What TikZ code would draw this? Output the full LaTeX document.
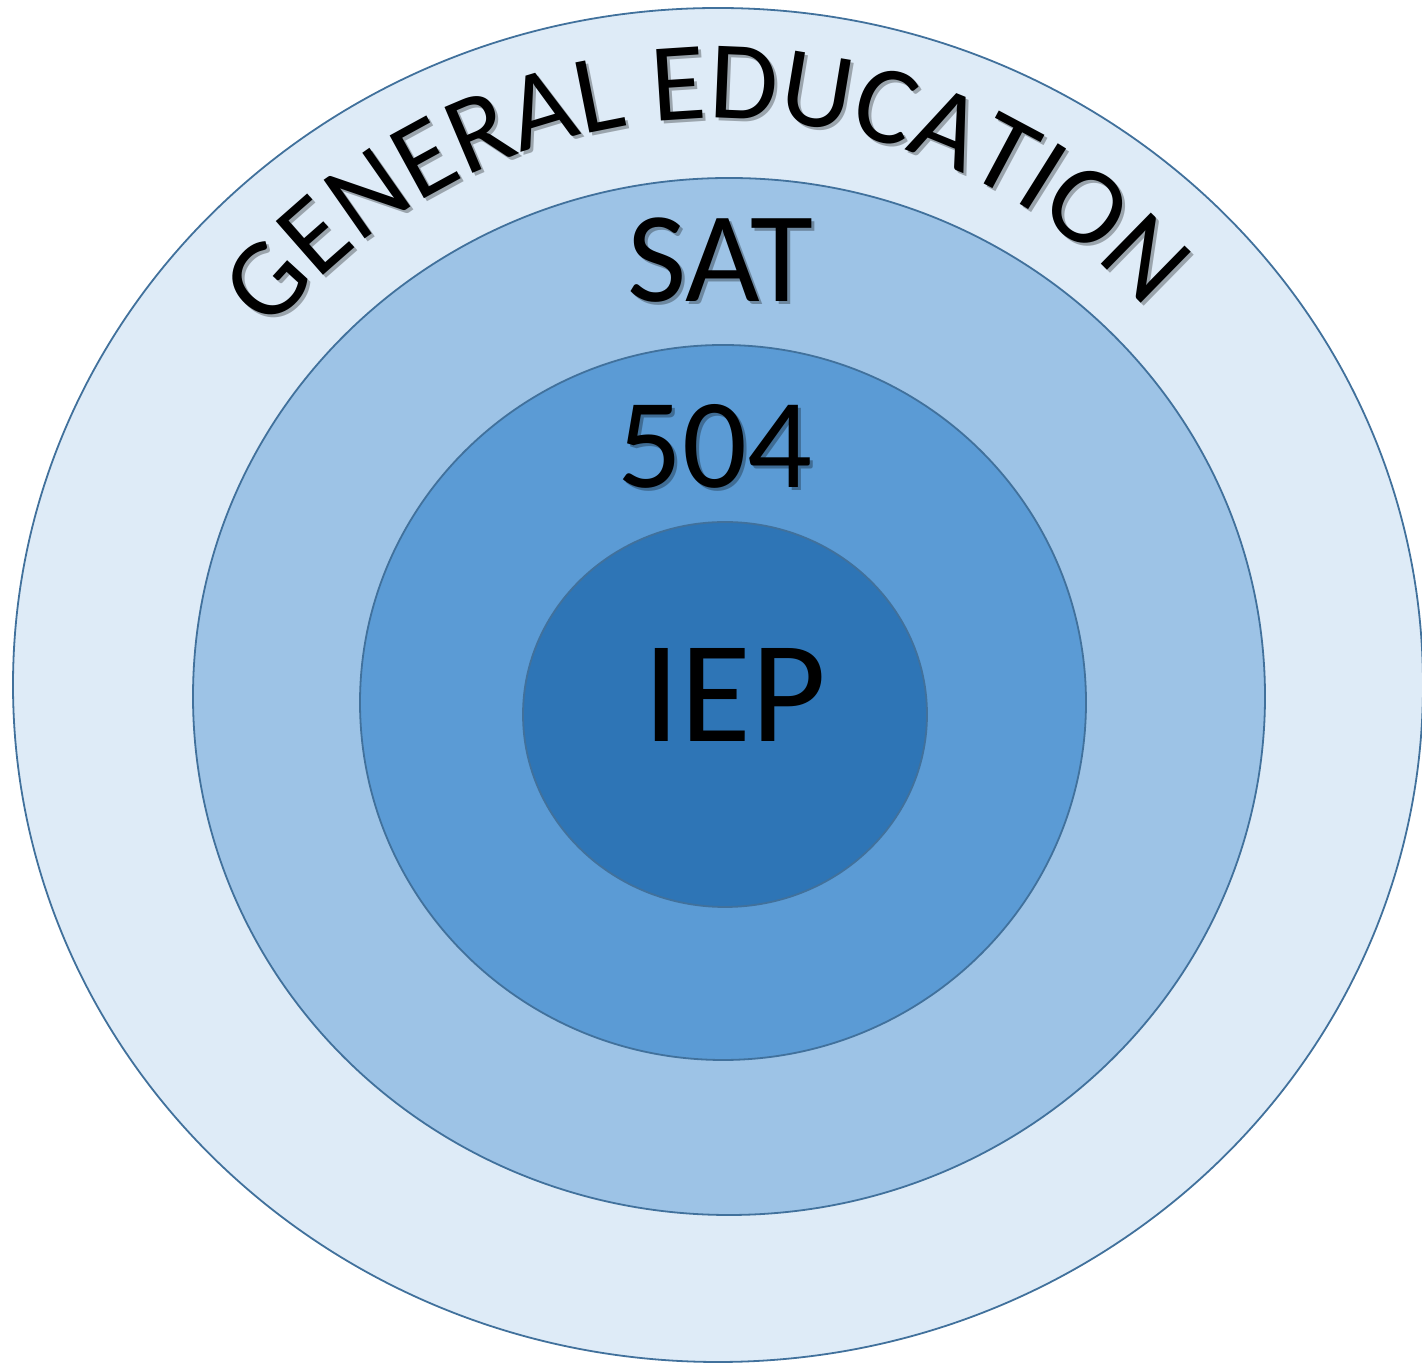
\documentclass[tikz,border=0pt]{standalone}
\usepackage{fontspec}
\setmainfont{Carlito}
\usetikzlibrary{decorations.text}
\definecolor{ringA}{HTML}{DEEBF7}
\definecolor{ringB}{HTML}{9DC3E6}
\definecolor{ringC}{HTML}{5B9BD5}
\definecolor{ringD}{HTML}{2E75B6}
\definecolor{ringline}{HTML}{41719C}
\newcommand\gefont{\fontsize{111.5}{120}\selectfont}
\begin{document}
\begin{tikzpicture}[x=1pt,y=1pt,
  ring/.style={draw=ringline, line width=1.8pt},
  lbl/.style={inner sep=0pt, anchor=base, text=black},
  shadowlbl/.style={inner sep=0pt, anchor=base, text=black, opacity=0.3},
  titlearc/.style={decorate, decoration={text along path, text align=center,
    text={|\gefont|GENERAL EDUCATION}}}]
\useasboundingbox (0,0) rectangle (1422,1365);
% rings
\path[ring, fill=ringA] (718,680) ellipse [x radius=705, y radius=677];
\path[ring, fill=ringB] (729,668.5) ellipse [x radius=536, y radius=518.5];
\path[ring, fill=ringC] (723,662.5) ellipse [x radius=363, y radius=357.5];
\path[ring, fill=ringD] (725,650.5) ellipse [x radius=202, y radius=192.5];
% curved title: soft shadow, then text
\begin{scope}[shift={(3,-3)}, opacity=0.3]
\path[titlearc] (718,670) ++(149.5:576) arc[start angle=149.5, end angle=33.5, radius=576];
\end{scope}
\path[titlearc] (718,670) ++(149.5:576) arc[start angle=149.5, end angle=33.5, radius=576];
% labels
\node[shadowlbl, font=\fontsize{129}{130}\selectfont] (satsh) at (723,1060) {SAT};
\node[lbl, font=\fontsize{129}{130}\selectfont] (sat) at (720,1063) {SAT};
\node[shadowlbl, font=\fontsize{128}{130}\selectfont] (fivesh) at (718,874) {504};
\node[lbl, font=\fontsize{128}{130}\selectfont] (five) at (715,877) {504};
\node[lbl, font=\fontsize{145}{150}\selectfont] (iep) at (735,623) {IEP};
\end{tikzpicture}
\end{document}
